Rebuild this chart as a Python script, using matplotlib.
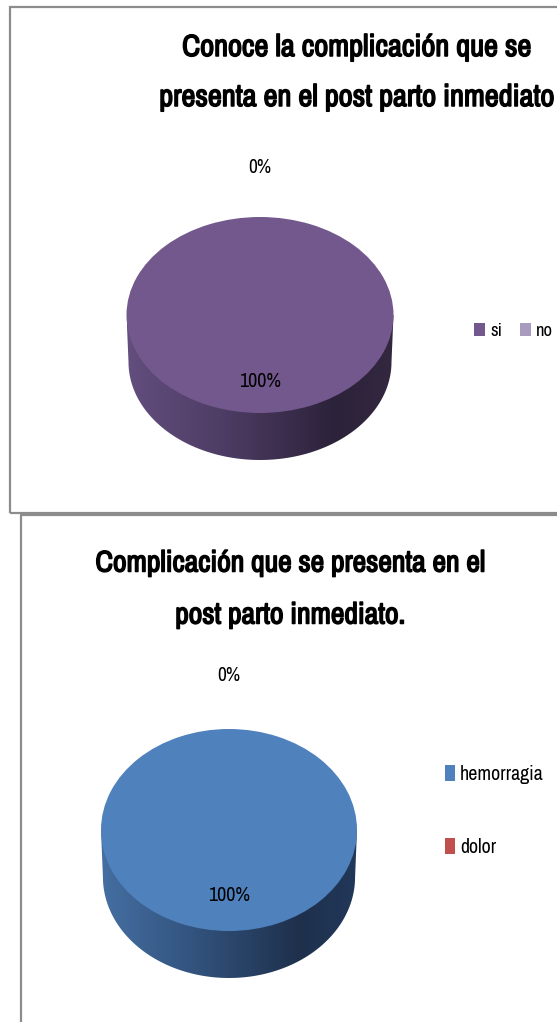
import numpy as np
import matplotlib
matplotlib.use('Agg')
import matplotlib.pyplot as plt
import matplotlib.patheffects as pe
from matplotlib import font_manager
from matplotlib.colors import LinearSegmentedColormap
from matplotlib.patches import PathPatch, Rectangle
from matplotlib.path import Path

# ─── Datos ────────────────────────────────────────────────────────────────────
TITULO_1 = ["Conoce la complicación que se", "presenta en el post parto inmediato"]
CATEG_1 = ["si", "no"]
VALORES_1 = [100, 0]

TITULO_2 = ["Complicación que se presenta en el", "post parto inmediato."]
CATEG_2 = ["hemorragia", "dolor"]
VALORES_2 = [100, 0]

# ─── Colores ──────────────────────────────────────────────────────────────────
COLORES_1 = ["#72588D", "#A99BBD"]
LADO_1 = ["#634E7E", "#4E3D65", "#2C223A", "#33283F"]
COLORES_2 = ["#4F81BD", "#C0504D"]
LADO_2 = ["#456FA2", "#33547F", "#1E304C", "#22385A"]

# ─── Fuente estrecha si existe ───────────────────────────────────────────────
nombres = sorted({f.name for f in font_manager.fontManager.ttflist})
FUENTE = "Liberation Sans"
if "Liberation Sans Narrow" in nombres:
    FUENTE = "Liberation Sans Narrow"
else:
    for n in nombres:
        if "Narrow" in n or "Condensed" in n:
            FUENTE = n
            break
plt.rcParams["font.family"] = [FUENTE, "DejaVu Sans"]
NEGRITA = [pe.withStroke(linewidth=1.1, foreground="black")]

W, H = 557, 1022
fig = plt.figure(figsize=(W / 100, H / 100), dpi=100)
fig.patch.set_facecolor("white")
rend = fig.canvas.get_renderer()


def fx(px):
    return px / W


def fy(py):
    return 1 - py / H


def ajustar(txt, ancho_px):
    # escala el tamaño de letra hasta el ancho medido en la referencia
    for _ in range(3):
        w = txt.get_window_extent(renderer=rend).width
        txt.set_fontsize(txt.get_fontsize() * ancho_px / w)
    return txt.get_fontsize()


def tam_para(texto, ancho_px):
    prueba = fig.text(0, 0, texto, fontsize=14)
    tam = ajustar(prueba, ancho_px)
    prueba.remove()
    return tam


# ─── Marcos de los gráficos ──────────────────────────────────────────────────
fig.add_artist(Rectangle((fx(10), fy(513)), fx(560) - fx(10), fy(7) - fy(513),
                         transform=fig.transFigure, fill=False,
                         edgecolor="#8C8C8C", linewidth=1.6))
fig.add_artist(Rectangle((fx(21), fy(1030)), fx(560) - fx(21), fy(515) - fy(1030),
                         transform=fig.transFigure, fill=False,
                         edgecolor="#8C8C8C", linewidth=1.6))


def pastel_3d(cx, a, ytop, b, prof, valores, colores, lado, dist_out, dist_in):
    d = prof / b
    alto = 2 * b + prof
    ax = fig.add_axes([fx(cx - a), fy(ytop + alto), 2 * a / W, alto / H])
    cunas, _ = ax.pie(valores, colors=colores, startangle=90, counterclock=False,
                      radius=1, wedgeprops=dict(linewidth=0), frame=False)
    for c in cunas:
        c.set_zorder(3)

    # lateral del cilindro con degradado horizontal
    t = np.linspace(np.pi, 2 * np.pi, 120)
    s = 0.985
    verts = [(-1, 0)] + [(s * np.cos(tt), -d + np.sin(tt)) for tt in t] + [(1, 0), (-1, 0)]
    camino = Path(verts, [Path.MOVETO] + [Path.LINETO] * (len(verts) - 2) + [Path.CLOSEPOLY])
    parche = PathPatch(camino, facecolor="none", edgecolor="none")
    ax.add_patch(parche)
    cmap = LinearSegmentedColormap.from_list("lado", list(zip([0, 0.35, 0.78, 1], lado)))
    grad = np.linspace(0, 1, 256).reshape(1, -1)
    im = ax.imshow(grad, extent=(-1, 1, -1 - d, 0.1), aspect="auto", cmap=cmap,
                   zorder=1, interpolation="bilinear")
    im.set_clip_path(parche)

    ax.set_aspect("auto")
    ax.set_xlim(-1, 1)
    ax.set_ylim(-1 - d, 1)
    ax.axis("off")

    # etiquetas de porcentaje
    total = sum(valores)
    textos = []
    for c, v in zip(cunas, valores):
        ang = np.deg2rad((c.theta1 + c.theta2) / 2)
        r = dist_out if v == 0 else dist_in
        t_ = ax.text(r * np.cos(ang), r * np.sin(ang), f"{v / total * 100:.0f}%",
                     ha="center", va="center", fontsize=12, color="black",
                     clip_on=False, zorder=5)
        textos.append((t_, v))
    for t_, v in textos:
        ajustar(t_, 23 if v == 0 else 42)
    return ax, cunas


def titulo(lineas, cx, ys, ancho):
    t1 = fig.text(fx(cx), fy(ys[0]), lineas[0], ha="center", va="center",
                  fontsize=20, fontweight="bold", path_effects=NEGRITA)
    tam = ajustar(t1, ancho)
    fig.text(fx(cx), fy(ys[1]), lineas[1], ha="center", va="center",
             fontsize=tam, fontweight="bold", path_effects=NEGRITA)


# ─── Gráfico 1 ───────────────────────────────────────────────────────────────
ax1, cunas1 = pastel_3d(260, 133.5, 217, 98, 47, VALORES_1, COLORES_1, LADO_1, 1.51, 0.68)
titulo(TITULO_1, 357, (47, 97), 350)
tam1 = tam_para(CATEG_1[1], 17)
fpx1 = tam1 * 100 / 72
fig.legend(cunas1, CATEG_1, loc="center left", bbox_to_anchor=(fx(474), fy(331)),
           ncol=2, frameon=False, fontsize=tam1, handlelength=11 / fpx1,
           handleheight=13 / fpx1, handletextpad=5 / fpx1, columnspacing=18 / fpx1,
           borderpad=0, borderaxespad=0)

# ─── Gráfico 2 ───────────────────────────────────────────────────────────────
ax2, cunas2 = pastel_3d(229, 128, 729, 101, 47, VALORES_2, COLORES_2, LADO_2, 1.53, 0.65)
titulo(TITULO_2, 290, (563, 615), 389)
tam2 = tam_para(CATEG_2[0], 83)
fpx2 = tam2 * 100 / 72
fig.legend(cunas2, CATEG_2, loc="upper left", bbox_to_anchor=(fx(445), fy(765)),
           frameon=False, fontsize=tam2, handlelength=10 / fpx2,
           handleheight=16 / fpx2, handletextpad=5 / fpx2, labelspacing=2.7,
           borderpad=0, borderaxespad=0)

fig.savefig("out.png", dpi=100, facecolor="white")
